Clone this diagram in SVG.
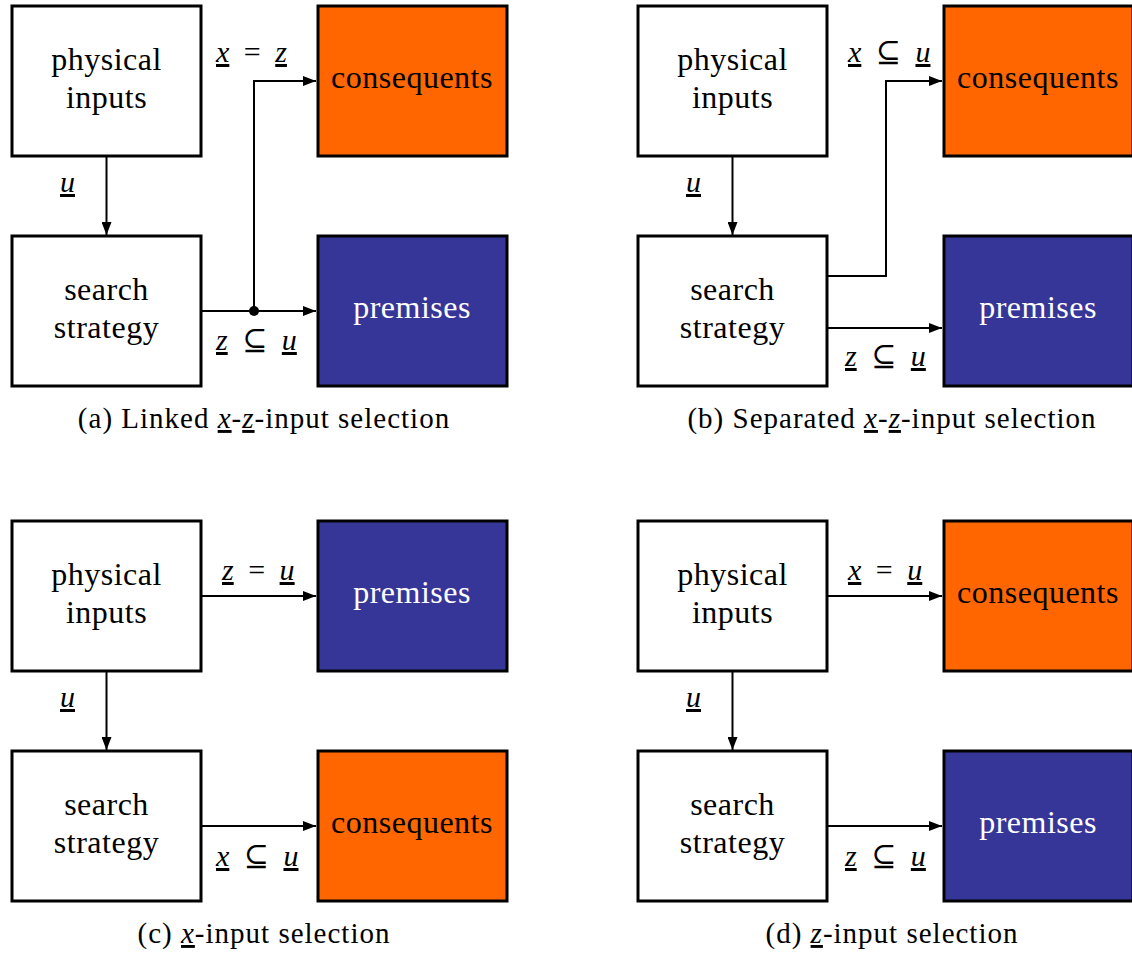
<svg xmlns="http://www.w3.org/2000/svg" width="1132" height="956" viewBox="0 0 1132 956">
<style>
text{font-family:"Liberation Serif","DejaVu Serif",serif;fill:#000}
.n{font-size:32px;text-anchor:middle;letter-spacing:0.5px}
.w{fill:#fff}
.m{font-size:30px;word-spacing:7px}
.cap{font-size:29px;text-anchor:middle;letter-spacing:1px}
.v{font-style:italic;text-decoration:underline}
.box{stroke:#000;stroke-width:3;fill:#fff}
.cons{fill:#FF6600}
.prem{fill:#363698}
.c{stroke:#000;stroke-width:2;fill:none}
</style>
<defs>
<marker id="ah" viewBox="0 0 13 10" refX="13" refY="5" markerWidth="13" markerHeight="10" markerUnits="userSpaceOnUse" orient="auto">
<path d="M0,0 L13,5 L0,10 z" fill="#000"/>
</marker>
</defs>

<!-- Panel (a) -->
<g id="a-physical"><rect class="box" x="12" y="6" width="189" height="150"/><text class="n" x="106.5" y="70">physical</text><text class="n" x="106.5" y="108">inputs</text></g>
<g id="a-search"><rect class="box" x="12" y="236" width="189" height="150"/><text class="n" x="106.5" y="300">search</text><text class="n" x="106.5" y="338">strategy</text></g>
<g id="a-consequents"><rect class="box cons" x="318" y="6" width="189" height="150"/><text class="n" x="412" y="88">consequents</text></g>
<g id="a-premises"><rect class="box prem" x="318" y="236" width="189" height="150"/><text class="n w" x="412" y="318">premises</text></g>
<g id="a-connectors">
<line class="c" x1="106.5" y1="157" x2="106.5" y2="235" marker-end="url(#ah)"/>
<line class="c" x1="202" y1="311" x2="316" y2="311" marker-end="url(#ah)"/>
<polyline class="c" points="254,311 254,81 316,81" marker-end="url(#ah)"/>
<circle cx="254" cy="311" r="5" fill="#000"/>
</g>
<text class="m" x="60" y="192"><tspan class="v">u</tspan></text>
<text class="m" x="216" y="62"><tspan class="v">x</tspan> = <tspan class="v">z</tspan></text>
<text class="m" x="216" y="350"><tspan class="v">z</tspan> ⊆ <tspan class="v">u</tspan></text>
<text class="cap" x="264" y="428">(a) Linked <tspan class="v">x</tspan>-<tspan class="v">z</tspan>-input selection</text>

<!-- Panel (b) -->
<g id="b-physical"><rect class="box" x="638" y="6" width="189" height="150"/><text class="n" x="732.5" y="70">physical</text><text class="n" x="732.5" y="108">inputs</text></g>
<g id="b-search"><rect class="box" x="638" y="236" width="189" height="150"/><text class="n" x="732.5" y="300">search</text><text class="n" x="732.5" y="338">strategy</text></g>
<g id="b-consequents"><rect class="box cons" x="944" y="6" width="189" height="150"/><text class="n" x="1038" y="88">consequents</text></g>
<g id="b-premises"><rect class="box prem" x="944" y="236" width="189" height="150"/><text class="n w" x="1038" y="318">premises</text></g>
<g id="b-connectors">
<line class="c" x1="732.5" y1="157" x2="732.5" y2="235" marker-end="url(#ah)"/>
<polyline class="c" points="828,276 886,276 886,81 942,81" marker-end="url(#ah)"/>
<line class="c" x1="828" y1="328" x2="942" y2="328" marker-end="url(#ah)"/>
</g>
<text class="m" x="686" y="192"><tspan class="v">u</tspan></text>
<text class="m" x="848" y="62"><tspan class="v">x</tspan> ⊆ <tspan class="v">u</tspan></text>
<text class="m" x="845" y="366"><tspan class="v">z</tspan> ⊆ <tspan class="v">u</tspan></text>
<text class="cap" x="892" y="428">(b) Separated <tspan class="v">x</tspan>-<tspan class="v">z</tspan>-input selection</text>

<!-- Panel (c) -->
<g id="c-physical"><rect class="box" x="12" y="521" width="189" height="150"/><text class="n" x="106.5" y="585">physical</text><text class="n" x="106.5" y="623">inputs</text></g>
<g id="c-search"><rect class="box" x="12" y="751" width="189" height="150"/><text class="n" x="106.5" y="815">search</text><text class="n" x="106.5" y="853">strategy</text></g>
<g id="c-premises"><rect class="box prem" x="318" y="521" width="189" height="150"/><text class="n w" x="412" y="603">premises</text></g>
<g id="c-consequents"><rect class="box cons" x="318" y="751" width="189" height="150"/><text class="n" x="412" y="833">consequents</text></g>
<g id="c-connectors">
<line class="c" x1="106.5" y1="672" x2="106.5" y2="750" marker-end="url(#ah)"/>
<line class="c" x1="202" y1="596" x2="316" y2="596" marker-end="url(#ah)"/>
<line class="c" x1="202" y1="826" x2="316" y2="826" marker-end="url(#ah)"/>
</g>
<text class="m" x="60" y="707"><tspan class="v">u</tspan></text>
<text class="m" x="222" y="580"><tspan class="v">z</tspan> = <tspan class="v">u</tspan></text>
<text class="m" x="216" y="866"><tspan class="v">x</tspan> ⊆ <tspan class="v">u</tspan></text>
<text class="cap" x="264" y="943">(c) <tspan class="v">x</tspan>-input selection</text>

<!-- Panel (d) -->
<g id="d-physical"><rect class="box" x="638" y="521" width="189" height="150"/><text class="n" x="732.5" y="585">physical</text><text class="n" x="732.5" y="623">inputs</text></g>
<g id="d-search"><rect class="box" x="638" y="751" width="189" height="150"/><text class="n" x="732.5" y="815">search</text><text class="n" x="732.5" y="853">strategy</text></g>
<g id="d-consequents"><rect class="box cons" x="944" y="521" width="189" height="150"/><text class="n" x="1038" y="603">consequents</text></g>
<g id="d-premises"><rect class="box prem" x="944" y="751" width="189" height="150"/><text class="n w" x="1038" y="833">premises</text></g>
<g id="d-connectors">
<line class="c" x1="732.5" y1="672" x2="732.5" y2="750" marker-end="url(#ah)"/>
<line class="c" x1="828" y1="596" x2="942" y2="596" marker-end="url(#ah)"/>
<line class="c" x1="828" y1="826" x2="942" y2="826" marker-end="url(#ah)"/>
</g>
<text class="m" x="686" y="707"><tspan class="v">u</tspan></text>
<text class="m" x="848" y="580"><tspan class="v">x</tspan> = <tspan class="v">u</tspan></text>
<text class="m" x="845" y="866"><tspan class="v">z</tspan> ⊆ <tspan class="v">u</tspan></text>
<text class="cap" x="892" y="943">(d) <tspan class="v">z</tspan>-input selection</text>
</svg>
